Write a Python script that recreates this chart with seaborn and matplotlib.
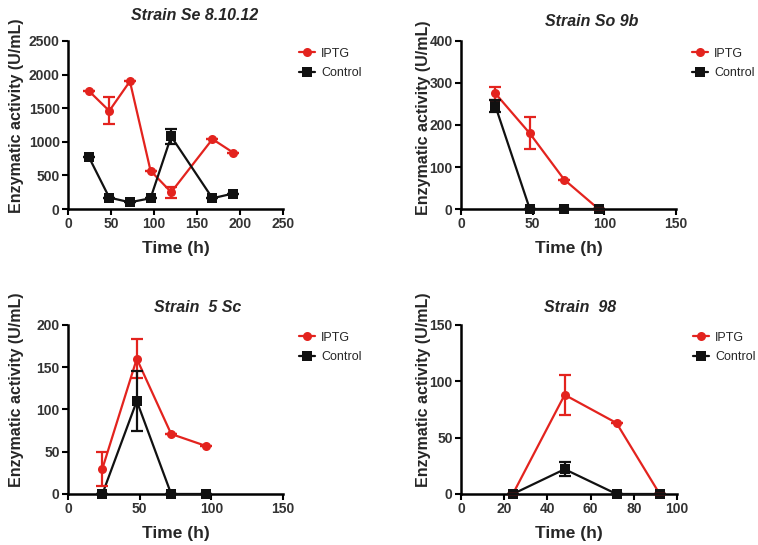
import numpy as np
import pandas as pd
import seaborn as sns
import matplotlib
matplotlib.use("Agg")
import matplotlib.pyplot as plt

sns.set_theme(style="ticks")
plt.rcParams['font.family'] = ['Liberation Sans', 'DejaVu Sans']

# Data
titles = ["Strain Se 8.10.12", "Strain So 9b", "Strain  5 Sc", "Strain  98"]

se_time = [24, 48, 72, 96, 120, 168, 192]
se_iptg = [1760, 1460, 1900, 570, 250, 1040, 840]
se_iptg_err = [0, 200, 0, 0, 80, 0, 0]
se_ctrl = [780, 170, 100, 160, 1080, 160, 230]
se_ctrl_err = [0, 0, 0, 0, 110, 0, 0]

so_time = [24, 48, 72, 96]
so_iptg = [275, 180, 70, 0]
so_iptg_err = [15, 38, 0, 0]
so_ctrl = [245, 0, 0, 0]
so_ctrl_err = [15, 0, 0, 0]

sc_time = [24, 48, 72, 96]
sc_iptg = [30, 160, 71, 57]
sc_iptg_err = [20, 23, 0, 0]
sc_ctrl = [0, 110, 0, 0]
sc_ctrl_err = [0, 35, 0, 0]

s98_time = [24, 48, 72, 92]
s98_iptg = [0, 88, 63, 0]
s98_iptg_err = [0, 18, 0, 0]
s98_ctrl = [0, 22, 0, 0]
s98_ctrl_err = [0, 6, 0, 0]

panels = [
    (se_time, se_iptg, se_iptg_err, se_ctrl, se_ctrl_err, (0, 250), [0, 50, 100, 150, 200, 250], (0, 2500), [0, 500, 1000, 1500, 2000, 2500]),
    (so_time, so_iptg, so_iptg_err, so_ctrl, so_ctrl_err, (0, 150), [0, 50, 100, 150], (0, 400), [0, 100, 200, 300, 400]),
    (sc_time, sc_iptg, sc_iptg_err, sc_ctrl, sc_ctrl_err, (0, 150), [0, 50, 100, 150], (0, 200), [0, 50, 100, 150, 200]),
    (s98_time, s98_iptg, s98_iptg_err, s98_ctrl, s98_ctrl_err, (0, 100), [0, 20, 40, 60, 80, 100], (0, 150), [0, 50, 100, 150]),
]

red = "#e3231e"
black = "#111111"

fig = plt.figure(figsize=(7.58, 5.45), dpi=100)
positions = [
    [0.0897, 0.6165, 0.2836, 0.3083],
    [0.6082, 0.6165, 0.2836, 0.3083],
    [0.0897, 0.0936, 0.2836, 0.3101],
    [0.6082, 0.0936, 0.2849, 0.3101],
]
title_x = [0.59, 0.61, 0.605, 0.55]
title_pad = [15, 11, 9.5, 9.5]
ylab_xy = [(-0.205, 0.554), (-0.14, 0.545), (-0.205, 0.615), (-0.14, 0.615)]

for i, (t, ip, ipe, ct, cte, xl, xt, yl, yt) in enumerate(panels):
    ax = fig.add_axes(positions[i])
    df = pd.DataFrame({
        "time": t + t,
        "activity": ip + ct,
        "group": ["IPTG"] * len(t) + ["Control"] * len(t),
    })
    sns.lineplot(data=df, x="time", y="activity", hue="group", style="group",
                 palette={"IPTG": red, "Control": black},
                 markers={"IPTG": "o", "Control": "s"}, dashes=False,
                 markersize=6.5, linewidth=1.6, markeredgewidth=0,
                 ax=ax, clip_on=False, zorder=3)
    ax.errorbar(t, ip, yerr=ipe, fmt="none", ecolor=red, elinewidth=1.6,
                capsize=4, capthick=1.6, clip_on=False, zorder=3)
    ax.errorbar(t, ct, yerr=cte, fmt="none", ecolor=black, elinewidth=1.6,
                capsize=4, capthick=1.6, clip_on=False, zorder=4)

    ax.set_xlim(*xl)
    ax.set_ylim(*yl)
    ax.set_xticks(xt)
    ax.set_yticks(yt)
    for s in ["top", "right"]:
        ax.spines[s].set_visible(False)
    for s in ["left", "bottom"]:
        ax.spines[s].set_linewidth(1.8)
        ax.spines[s].set_color("black")
    ax.tick_params(axis="both", direction="out", length=4, width=1.5,
                   labelsize=10, colors="black", pad=2)
    for lab in ax.get_xticklabels() + ax.get_yticklabels():
        lab.set_fontweight("bold")
        lab.set_color("#333333")

    ax.set_xlabel("Time (h)", fontsize=12.5, fontweight="bold", labelpad=7)
    ax.set_ylabel("Enzymatic activity (U/mL)", fontsize=11.5, fontweight="bold")
    ax.yaxis.set_label_coords(*ylab_xy[i])
    ax.set_title(titles[i], fontsize=11.5, fontweight="bold", style="italic",
                 pad=title_pad[i], x=title_x[i])

    handles, labels = ax.get_legend_handles_labels()
    order = [labels.index("IPTG"), labels.index("Control")]
    ax.legend([handles[k] for k in order], [labels[k] for k in order],
              loc="upper left", bbox_to_anchor=(1.05, 0.99), frameon=False,
              fontsize=9, handlelength=1.3, handletextpad=0.5, labelspacing=0.6,
              borderaxespad=0)

fig.savefig("out.png", dpi=100)
